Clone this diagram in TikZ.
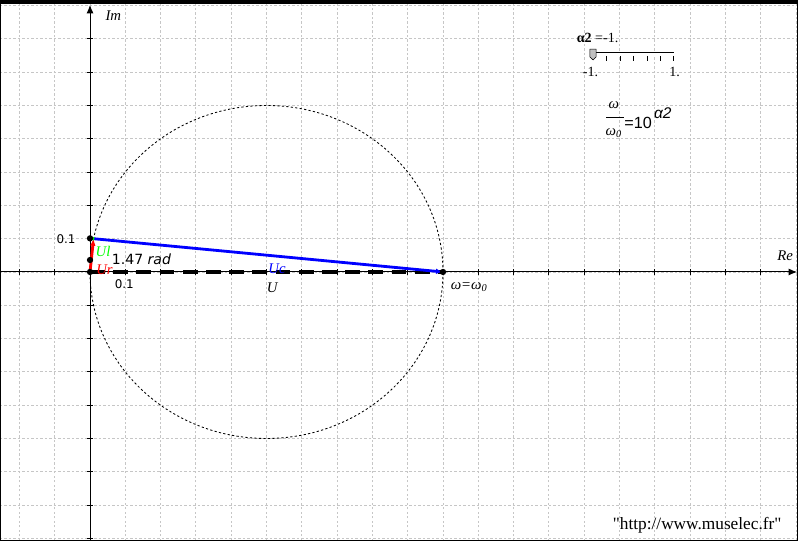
\documentclass[tikz,border=0pt]{standalone}
\usepackage{fontspec}
\setmainfont{Liberation Serif}
\newfontfamily\labfont{DejaVu Sans}
\newfontfamily\formfont{Liberation Sans}
\usetikzlibrary{arrows.meta}

\begin{document}
\begin{tikzpicture}[x=8.825cm,y=8.325cm,
        gridline/.style={gray!45,line width=0.6pt,dash pattern=on 1.6pt off 1.6pt},
        vec/.style={-{Latex[length=5pt,width=4pt]},line width=2pt},
        dot/.style={circle,fill=black,inner sep=0pt,minimum size=4.5pt},
        ital/.style={font=\fontsize{10.5}{12}\selectfont\itshape},
        numlab/.style={font=\labfont\fontsize{8.5}{10}\selectfont}]
    \useasboundingbox (-0.255,-0.8078) rectangle (2.0057,0.8168);
    % grid
    \foreach \x in {-2,...,20}
        \draw [gridline] (\x/10,-0.8078) -- (\x/10,0.8168);
    \foreach \y in {-8,...,8}
        \draw [gridline] (-0.255,\y/10) -- (2.0057,\y/10);
    % axes and ticks
    \draw [-{Latex[length=6pt,width=5pt]},line width=0.7pt] (-0.255,0) -- (2.003,0);
    \draw [-{Latex[length=6pt,width=5pt]},line width=0.7pt] (0,-0.8078) -- (0,0.802);
    \foreach \x in {-2,-1,1,2,...,19}
        \draw [line width=0.6pt] (\x/10,0) ++(0,-2pt) -- ++(0,4pt);
    \foreach \y in {-8,...,-1,1,2,...,7}
        \draw [line width=0.6pt] (0,\y/10) ++(-2pt,0) -- ++(4pt,0);
    \node [ital] at (0.066,0.77) {Im};
    \node [ital] at (1.969,0.048) {Re};
    \node [numlab] at (-0.068,0.099) {0.1};
    \node [numlab] at (0.097,-0.036) {0.1};
    % locus of Ur
    \draw [line width=0.6pt,dash pattern=on 1.6pt off 1.6pt] (0.5,0) circle [radius=0.5];
    % phasors
    \coordinate (O) at (0,0);
    \coordinate (R) at (0.0101,0.1);
    \coordinate (L) at (0,0.101);
    \coordinate (M) at (0,0.036);
    \coordinate (E) at (1,0);
    \draw [line width=2.8pt,dash pattern=on 10.5pt off 6pt] (O) -- (E);
    \draw [vec,blue] (L) -- (E);
    \draw [vec,red] (O) -- (R);
    \draw [-{Latex[length=3pt,width=3pt]},line width=1pt,green] (R) -- (L);
    \foreach \p in {O,M,L,E}
        \node [dot] at (\p) {};
    \node [ital,green] at (0.037,0.063) {Ul};
    \node [ital,red] at (0.041,0.006) {Ur};
    \node [font=\labfont\fontsize{10}{12}\selectfont,anchor=west] at (0.048,0.039) {1.47 \textit{rad}};
    \node [ital,blue] at (0.53,0.009) {Uc};
    \node [ital] at (0.516,-0.048) {U};
    \node [ital] at (1.074,-0.045) {ω=ω\textsubscript{0}};
    % slider
    \node [font=\fontsize{10}{11}\selectfont] at (1.438,0.703) {\textbf{α2} =-1.};
    \draw [line width=0.5pt,double distance=1.2pt] (1.425,0.655) -- (1.654,0.655);
    \foreach \k in {1,...,6}
        \draw [line width=0.6pt] (1.425+\k*0.0382,0.649) -- (1.425+\k*0.0382,0.634);
    \draw [fill=gray!50,line width=0.4pt] (1.416,0.669) -- (1.434,0.669) -- (1.434,0.646) -- (1.425,0.637) -- (1.416,0.646) -- cycle;
    \node [font=\fontsize{10}{11}\selectfont] at (1.418,0.601) {-1.};
    \node [font=\fontsize{10}{11}\selectfont] at (1.656,0.601) {1.};
    % frequency ratio
    \node [ital] at (1.484,0.5) {ω};
    \draw [line width=0.5pt] (1.463,0.465) -- (1.513,0.465);
    \node [ital] at (1.484,0.417) {ω\textsubscript{0}};
    \node [font=\formfont\fontsize{11.5}{13}\selectfont,anchor=west,inner sep=0pt] at (1.513,0.448) {=10};
    \node [font=\formfont\itshape\fontsize{11}{13}\selectfont,anchor=west,inner sep=0pt] at (1.597,0.478) {α2};
    \node [font=\fontsize{12.3}{14}\selectfont\addfontfeature{Ligatures=TeXOff}] at (1.72,-0.76) {"http://www.muselec.fr"};
    % frame
    \draw [line width=1.4pt] (-0.255,-0.8078) rectangle (2.0057,0.8168);
    \fill (-0.255,0.8168) rectangle (2.0057,0.8048);
\end{tikzpicture}
\end{document}
